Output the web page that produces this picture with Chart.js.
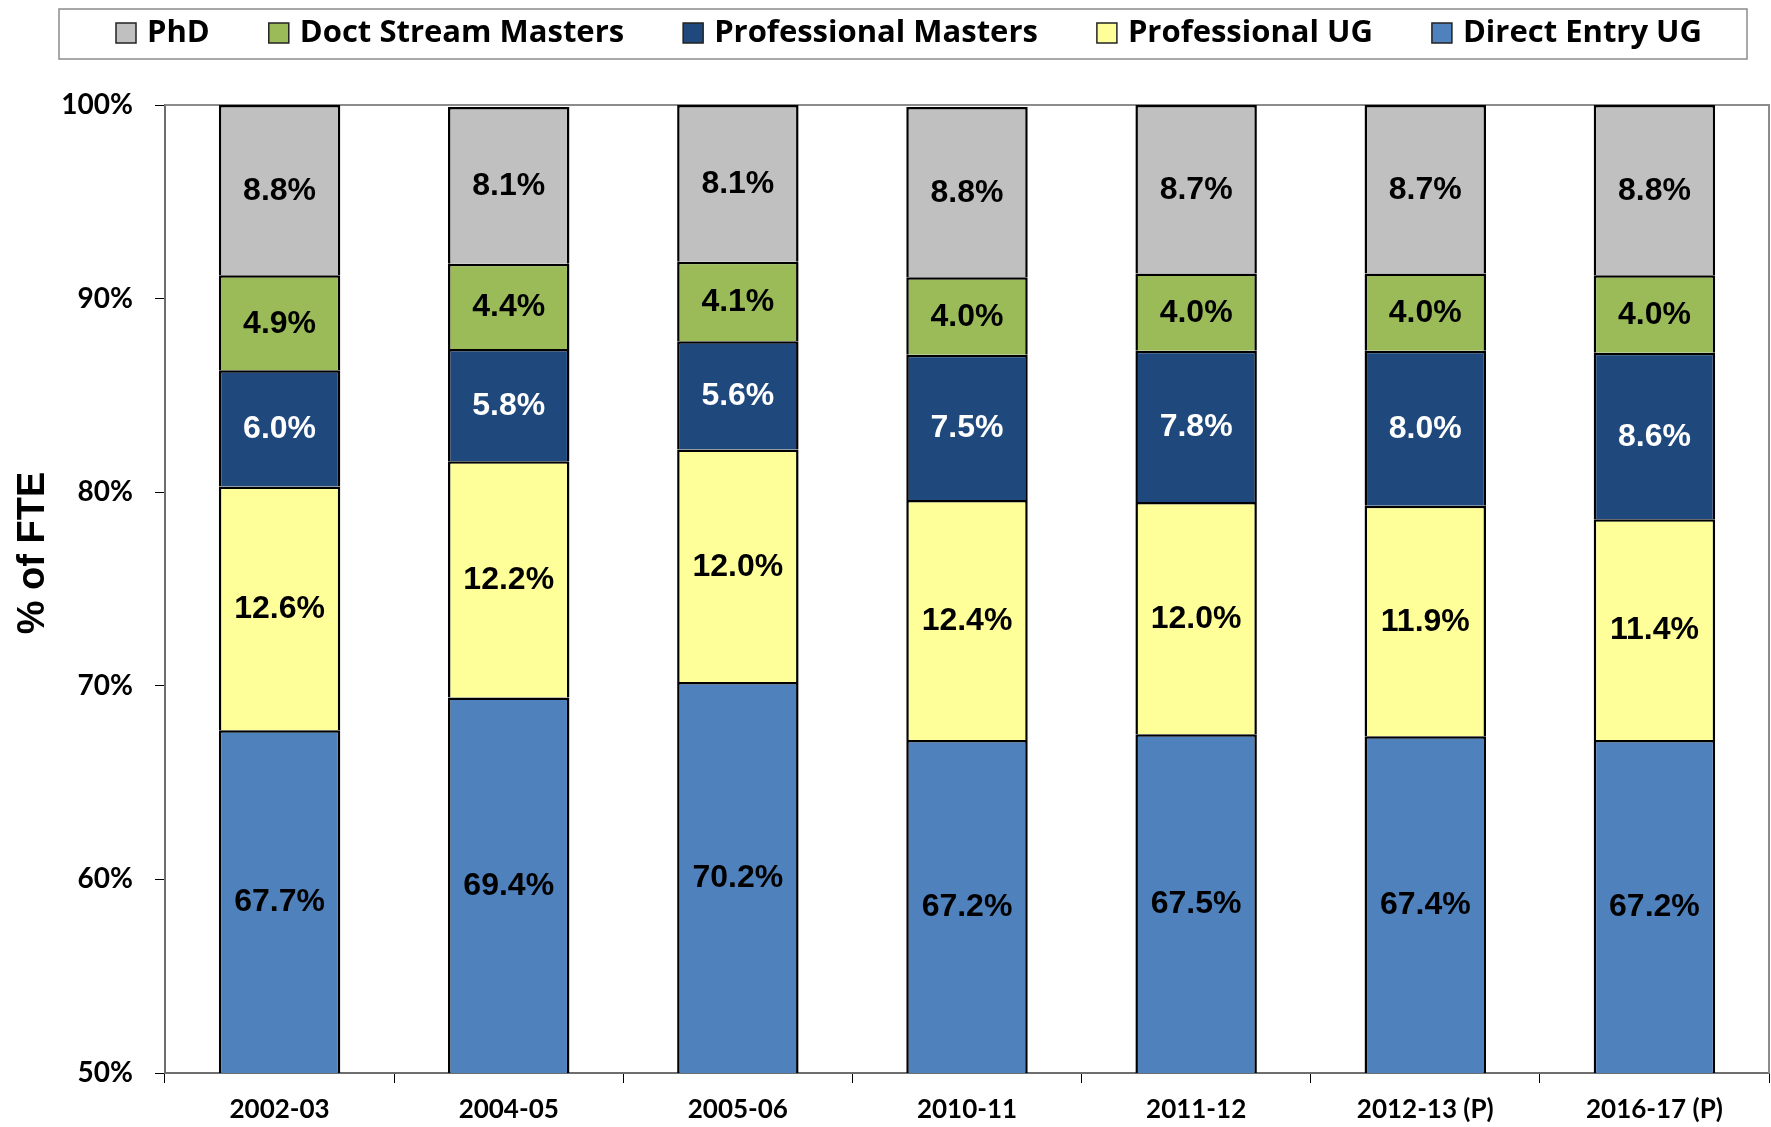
<!DOCTYPE html>
<html>
<head>
<meta charset="utf-8">
<script src="https://cdn.jsdelivr.net/npm/chart.js@4/dist/chart.umd.min.js"></script>
<style>
  html, body { margin: 0; padding: 0; background: #fff; }
</style>
</head>
<body>
<canvas id="chart" width="1771" height="1127"></canvas>
<script>
const years = ["2002-03", "2004-05", "2005-06", "2010-11", "2011-12", "2012-13 (P)", "2016-17 (P)"];
const directEntryUG = [67.7, 69.4, 70.2, 67.2, 67.5, 67.4, 67.2];
const professionalUG = [12.6, 12.2, 12.0, 12.4, 12.0, 11.9, 11.4];
const professionalMasters = [6.0, 5.8, 5.6, 7.5, 7.8, 8.0, 8.6];
const doctStreamMasters = [4.9, 4.4, 4.1, 4.0, 4.0, 4.0, 4.0];
const phd = [8.8, 8.1, 8.1, 8.8, 8.7, 8.7, 8.8];
const yTicks = [50, 60, 70, 80, 90, 100];

const tickFont = "Lato";
const legendFont = "'Open Sans'";
const labelFont = "'Liberation Sans', Arial, sans-serif";

// labels, legend box, axis title and plot frame
const decor = {
    id: "decor",
    beforeDraw(chart) {
        const ctx = chart.ctx;
        ctx.save();
        ctx.fillStyle = "#fff";
        ctx.fillRect(0, 0, chart.width, chart.height);
        ctx.restore();
    },
    beforeDatasetsDraw(chart) {
        const { ctx, chartArea: a } = chart;
        ctx.save();
        ctx.strokeStyle = "#8c8c8c";
        ctx.lineWidth = 2;
        ctx.beginPath();
        ctx.moveTo(a.left, a.top);
        ctx.lineTo(a.right, a.top);
        ctx.lineTo(a.right, a.bottom);
        ctx.stroke();
        ctx.restore();
    },
    afterDatasetsDraw(chart) {
        const { ctx, chartArea: a } = chart;
        ctx.save();
        ctx.font = "bold 32px " + labelFont;
        ctx.textAlign = "center";
        ctx.textBaseline = "middle";
        chart.data.datasets.forEach((ds, i) => {
            const meta = chart.getDatasetMeta(i);
            meta.data.forEach((bar, j) => {
                const { x, y, base } = bar.getProps(["x", "y", "base"], true);
                const top = Math.max(Math.min(y, base), a.top);
                const bottom = Math.min(Math.max(y, base), a.bottom);
                ctx.fillStyle = ds.labelColor;
                ctx.fillText(ds.data[j].toFixed(1) + "%", x, (top + bottom) / 2 + 1);
            });
        });
        ctx.restore();
    },
    afterDraw(chart) {
        const ctx = chart.ctx;
        ctx.save();
        // legend frame
        ctx.strokeStyle = "#8c8c8c";
        ctx.lineWidth = 1.5;
        ctx.strokeRect(59, 9, 1688, 50);

        // legend items, top series first
        ctx.font = "bold 31px " + legendFont;
        ctx.textBaseline = "middle";
        const items = chart.data.datasets.slice().reverse();
        const box = 20, gap = 11, spacing = 59;
        const widths = items.map(d => ctx.measureText(d.label).width);
        const total = widths.reduce((s, w) => s + box + gap + w, 0) + spacing * (items.length - 1);
        let x = 909 - total / 2;
        items.forEach((d, i) => {
            ctx.fillStyle = d.backgroundColor;
            ctx.fillRect(x, 33 - box / 2, box, box);
            ctx.strokeStyle = "#222";
            ctx.lineWidth = 1.5;
            ctx.strokeRect(x, 33 - box / 2, box, box);
            ctx.fillStyle = "#000";
            ctx.fillText(d.label, x + box + gap, 33);
            x += box + gap + widths[i] + spacing;
        });

        // y axis title
        ctx.translate(34, 553);
        ctx.rotate(-Math.PI / 2);
        ctx.font = "bold 38px " + labelFont;
        ctx.textAlign = "center";
        ctx.fillStyle = "#000";
        ctx.fillText("% of FTE", 0, 0);
        ctx.restore();
    }
};

const series = [
    { label: "Direct Entry UG", data: directEntryUG, color: "#4F81BD", labelColor: "#000" },
    { label: "Professional UG", data: professionalUG, color: "#FFFF99", labelColor: "#000" },
    { label: "Professional Masters", data: professionalMasters, color: "#1F497D", labelColor: "#fff" },
    { label: "Doct Stream Masters", data: doctStreamMasters, color: "#9BBB59", labelColor: "#000" },
    { label: "PhD", data: phd, color: "#C0C0C0", labelColor: "#000" },
];

const ctx = document.getElementById("chart").getContext("2d");
new Chart(ctx, {
    type: "bar",
    data: {
        labels: years,
        datasets: series.map(s => ({
            label: s.label,
            data: s.data,
            backgroundColor: s.color,
            borderColor: "#000",
            borderWidth: 2.5,
            labelColor: s.labelColor,
            categoryPercentage: 1,
            barPercentage: 0.53,
            clip: { left: false, right: false, top: 3, bottom: 0 },
        })),
    },
    options: {
        responsive: false,
        animation: false,
        devicePixelRatio: 1,
        layout: { padding: { top: 105, right: 2, left: 0, bottom: 0 } },
        plugins: {
            legend: { display: false },
            tooltip: { enabled: false },
        },
        scales: {
            x: {
                stacked: true,
                grid: { display: true, drawOnChartArea: false, drawTicks: true, tickLength: 10, color: "#000", offset: true },
                border: { color: "#6e6e6e", width: 2 },
                ticks: { color: "#000", font: { family: tickFont, size: 26, weight: "bold" }, padding: 11, maxRotation: 0 },
                afterFit: s => { s.height = 54; },
            },
            y: {
                stacked: true,
                min: 50,
                max: 100,
                afterBuildTicks: s => { s.ticks = yTicks.map(v => ({ value: v })); },
                grid: { drawOnChartArea: false, drawTicks: true, tickLength: 10, color: "#000" },
                border: { color: "#6e6e6e", width: 2 },
                ticks: { color: "#000", font: { family: tickFont, size: 28, weight: "bold" }, padding: 22, callback: v => v + "%" },
                afterFit: s => { s.width = 165; },
            },
        },
    },
    plugins: [decor],
});
</script>
</body>
</html>
